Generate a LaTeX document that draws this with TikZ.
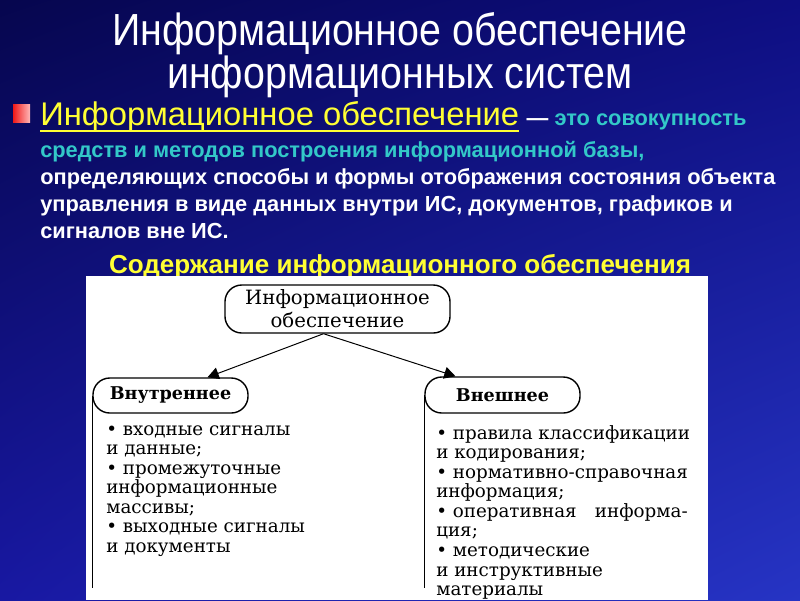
\documentclass[tikz,border=0pt]{standalone}
\usepackage{fontspec}
\setmainfont{Liberation Sans}
\newfontfamily\narrowsans[FakeStretch=0.875]{Liberation Sans}
\newfontfamily\scanfont{DejaVu Serif}
\usetikzlibrary{positioning,arrows.meta,calc,shadings}
\definecolor{deepnavy}{HTML}{06064E}
\definecolor{midnavy}{HTML}{0E0E82}
\definecolor{lownavy}{HTML}{1818A2}
\definecolor{brightnavy}{HTML}{2634C4}
\definecolor{lemon}{HTML}{FFFF33}
\definecolor{aqua}{HTML}{33C8C8}
\definecolor{brick}{HTML}{F01818}
\definecolor{blush}{HTML}{FFB8B8}
\tikzset{
  headline/.style={text=white,inner sep=0pt,font=\narrowsans\fontsize{32}{34}\selectfont},
  keyline/.style={text=lemon,inner sep=0pt,font=\fontsize{23.3}{26}\selectfont},
  bodyline/.style={text=white,inner sep=0pt,font=\bfseries\fontsize{15.5}{18}\selectfont},
  subline/.style={text=lemon,inner sep=0pt,font=\bfseries\fontsize{18.5}{20}\selectfont},
  capsule/.style={draw=black,fill=white,line width=1pt,rounded corners=0.42cm,inner sep=0pt,align=center},
  listtext/.style={inner sep=0pt,align=left,anchor=north west,font=\scanfont\fontsize{13}{13.9}\selectfont},
  link/.style={-{Triangle[length=8pt,width=8.5pt]},draw=black,line width=0.7pt},
  rule/.style={draw=black,line width=1pt}}

\begin{document}
\begin{tikzpicture}[x=0.025cm,y=-0.025cm]
  \useasboundingbox (0,0) rectangle (800,600);
  \shade[upper left=deepnavy,upper right=midnavy,lower left=lownavy,lower right=brightnavy] (0,0) rectangle (800,600);
  % slide title
  \node[headline,anchor=base] (title1) at (400,45) {Информационное обеспечение};
  \node[headline,anchor=base] (title2) at (400,88) {информационных систем};
  % definition
  \shade[left color=brick,right color=blush] (13,104) rectangle (30,122);
  \node[keyline,anchor=base west] (key) at (40,125) {Информационное обеспечение};
  \draw[lemon,line width=1.4pt] ([yshift=-4pt]key.base west) -- ([yshift=-4pt]key.base east);
  \node[bodyline,base right=5pt of key] (dash) {— \textcolor{aqua}{это совокупность}};
  \node[bodyline,text=aqua,anchor=base west] (def2) at (40,157) {средств и методов построения информационной базы,};
  \node[bodyline,anchor=base west] (def3) at (40,184) {определяющих способы и формы отображения состояния объекта};
  \node[bodyline,anchor=base west] (def4) at (40,211) {управления в виде данных внутри ИС, документов, графиков и};
  \node[bodyline,anchor=base west] (def5) at (40,238) {сигналов вне ИС.};
  \node[subline,anchor=base] (sub) at (400,273) {Содержание информационного обеспечения};
  % scheme
  \fill[white] (86,276) rectangle (708,600);
  \node[capsule,minimum width=5.625cm,minimum height=1.2cm,font=\scanfont\fontsize{14}{16.5}\selectfont] (root) at (337.5,309) {Информационное\\обеспечение};
  \node[capsule,minimum width=3.875cm,minimum height=0.875cm,font=\scanfont\bfseries\fontsize{12.5}{14}\selectfont] (inner) at (170.5,395.5) {Внутреннее};
  \node[capsule,minimum width=3.875cm,minimum height=0.9cm,font=\scanfont\bfseries\fontsize{12.5}{14}\selectfont] (outer) at (502.5,395) {Внешнее};
  \coordinate (fork) at ($(root.south)+(-14,0)$);
  \draw[link] (fork) -- ($(inner.north)+(37,0)$);
  \draw[link] (fork) -- ($(outer.north)+(-47,0)$);
  \coordinate (colend) at (0,588);
  \draw[rule] (inner.west) -- (inner.west |- colend);
  \draw[rule] (outer.west) -- (outer.west |- colend);
  \node[listtext] (innerlist) at (106,425) {• входные сигналы\\и данные;\\• промежуточные\\информационные\\массивы;\\• выходные сигналы\\и документы};
  \node[listtext] (outerlist) at (436,425) {• правила классификации\\и кодирования;\\• нормативно-справочная\\информация;\\• оперативная\quad информа-\\ция;\\• методические\\и инструктивные\\материалы};
\end{tikzpicture}
\end{document}
